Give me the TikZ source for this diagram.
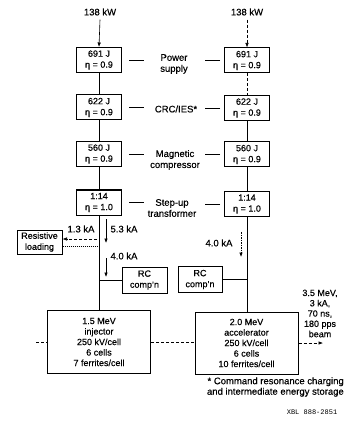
\documentclass[tikz,border=0pt]{standalone}
\usepackage{fontspec}
\setmainfont{Liberation Sans}[FakeBold=0.4]
\newfontfamily\xblfont{Liberation Mono}
\usetikzlibrary{arrows.meta,calc}
\begin{document}
\begin{tikzpicture}[x=1pt,y=-1pt,
  every node/.style={font=\fontsize{9}{11}\selectfont, inner sep=0pt},
  blk/.style={draw, line width=1pt, minimum width=45pt, minimum height=25pt, align=center},
  big/.style={draw, line width=1pt, minimum width=103pt, minimum height=63pt, align=center, font=\fontsize{9}{10.5}\selectfont},
  lbl/.style={align=center, font=\fontsize{9.5}{11}\selectfont},
  conn/.style={line width=0.6pt},
  tip/.style={-{Latex[length=4.5pt,width=3.5pt]}},
  dsh/.style={dash pattern=on 3pt off 2pt}
]
\useasboundingbox (0,0) rectangle (345,430);

% power inputs
\node[lbl] (inL) at (100,12) {138 kW};
\node[lbl] (inR) at (247,12) {138 kW};

% left column
\node[blk] (L1) at (99,60) {691 J\\η = 0.9};
\node[blk] (L2) at (99,107.5) {622 J\\η = 0.9};
\node[blk] (L3) at (99,154) {560 J\\η = 0.9};
\node[blk] (L4) at (99,202.5) {1:14\\η = 1.0};
% right column
\node[blk] (R1) at (247,60.5) {691 J\\η = 0.9};
\node[blk] (R2) at (247,108) {622 J\\η = 0.9};
\node[blk] (R3) at (247,154.5) {560 J\\η = 0.9};
\node[blk] (R4) at (247,204) {1:14\\η = 1.0};

% middle labels
\node[lbl] (ps) at (174,64) {Power\\supply};
\node[lbl] (crc) at (176,109) {CRC/IES*};
\node[lbl] (mag) at (175,160) {Magnetic\\compressor};
\node[lbl] (stp) at (172,208) {Step-up\\transformer};

\foreach \a/\b in {L1/R1,L2/R2,L3/R3,L4/R4}{
  \draw[conn] ([xshift=7pt]\a.east) -- ++(15,0);
  \draw[conn] ([xshift=-4pt]\b.west) -- ++(-15,0);
}

% arrows from power input
\draw[conn,tip] ([yshift=-4pt]inL.south) -- (L1.north);
\draw[conn,tip,dsh] ([yshift=-4pt]inR.south) -- (R1.north);

% column links
\draw[conn] (L1.south) -- (L2.north);
\draw[conn] (L2.south) -- (L3.north);
\draw[conn] (L3.south) -- (L4.north);
\draw[conn,dsh] (R1.south) -- (R2.north);
\draw[conn] (R2.south) -- (R3.north);
\draw[conn] (R3.south) -- (R4.north);

% lower boxes
\node[blk, minimum height=24pt] (res) at (39.5,242) {Resistive\\loading};
\node[blk, minimum height=26pt] (rcL) at (144.5,280) {RC\\comp'n};
\node[blk, minimum height=26pt, minimum width=44pt] (rcR) at (200,279.5) {RC\\comp'n};
\node[big] (inj) at (99,342) {1.5 MeV\\injector\\250 kV/cell\\6 cells\\7 ferrites/cell};
\node[big, minimum height=62pt] (acc) at (246.5,343) {2.0 MeV\\accelerator\\250 kV/cell\\6 cells\\10 ferrites/cell};

% left branch
\draw[conn] (L4.south) -- (L4.south |- inj.north);
\draw[conn] (rcL.west) -- (rcL.west -| L4.south);
\coordinate (a1s) at (106,219);
\coordinate (a1e) at (106,243);
\coordinate (a2s) at (106,258);
\coordinate (a2e) at (106,277);
\draw[conn,tip] (a1s) -- (a1e);
\draw[conn,tip] (a2s) -- (a2e);
\node[lbl] (k53) at (124,229) {5.3 kA};
\node[lbl] (k40) at (124,256) {4.0 kA};
\node[lbl] (k13) at (81,229) {1.3 kA};
\coordinate (rl1) at (97,239);
\draw[conn,tip,dsh] (rl1) -- (rl1 -| res.east);
\coordinate (rl2) at (98,246);
\draw[conn,dash pattern=on 1pt off 1pt] (rl2 -| res.east) -- (rl2);

% right branch
\draw[conn] (R4.south) -- (R4.south |- acc.north);
\draw[conn] (rcR.east) -- (rcR.east -| R4.south);
\coordinate (a3s) at (241,232);
\coordinate (a3e) at (241,257);
\draw[conn,tip,dash pattern=on 1.5pt off 1pt] (a3s) -- (a3e);
\node[lbl] (k40r) at (219,243) {4.0 kA};

% injector - accelerator
\draw[conn,dsh] (inj.east) -- (inj.east -| acc.west);
\draw[conn,dsh] ([xshift=-11pt]inj.west) -- (inj.west);

% beam
\node[lbl, font=\fontsize{9}{10.3}\selectfont] (beam) at (320,313.5) {3.5 MeV,\\3 kA,\\70 ns,\\180 pps\\beam};
\coordinate (bend) at (323,343);
\draw[conn,tip,dsh] (acc.east) -- (bend);

% footnote
\node[lbl, align=right, anchor=east, font=\fontsize{9.5}{10.5}\selectfont] (fn) at (344,387) {* Command resonance charging\\and intermediate energy storage};
\node[font=\xblfont\fontsize{7}{8}\selectfont] (xbl) at (312,412) {XBL 888-2851};
\end{tikzpicture}
\end{document}
